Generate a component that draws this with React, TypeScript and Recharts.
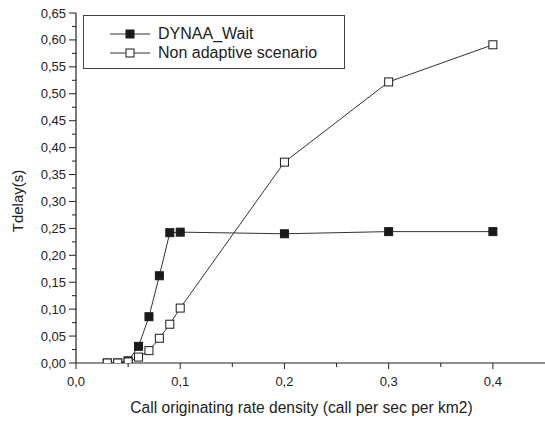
import React from 'react';
import { LineChart, Line, XAxis, YAxis, Legend } from 'recharts';

// call originating rate density (call per sec per km2)
const rateDensity = [0.03, 0.04, 0.05, 0.06, 0.07, 0.08, 0.09, 0.1, 0.2, 0.3, 0.4];
// Tdelay(s)
const dynaaWait = [0, 0, 0.004, 0.031, 0.086, 0.162, 0.242, 0.243, 0.24, 0.244, 0.244];
const nonAdaptive = [0, 0, 0.002, 0.011, 0.023, 0.046, 0.072, 0.102, 0.373, 0.522, 0.591];

const xTicks = [0, 0.05, 0.1, 0.15, 0.2, 0.25, 0.3, 0.35, 0.4];
const xMajor = [0, 0.1, 0.2, 0.3, 0.4];
const yTicks = [
  0, 0.025, 0.05, 0.075, 0.1, 0.125, 0.15, 0.175, 0.2, 0.225, 0.25, 0.275, 0.3, 0.325,
  0.35, 0.375, 0.4, 0.425, 0.45, 0.475, 0.5, 0.525, 0.55, 0.575, 0.6, 0.625, 0.65,
];
const yMajor = [0, 0.05, 0.1, 0.15, 0.2, 0.25, 0.3, 0.35, 0.4, 0.45, 0.5, 0.55, 0.6, 0.65];

const data = rateDensity.map((x, i) => ({ x, dynaa: dynaaWait[i], nonAdaptive: nonAdaptive[i] }));

const FONT = '"Liberation Sans", Arial, sans-serif';
const INK = '#222';

const isMajor = (v: number, list: number[]) => list.some((m) => Math.abs(m - v) < 1e-6);
const comma = (v: number, digits: number) => v.toFixed(digits).replace('.', ',');

const XTick = (props: any) => {
  const { x, y, payload } = props;
  const major = isMajor(payload.value, xMajor);
  return (
    <g>
      <line x1={x} y1={y} x2={x} y2={y + (major ? 6 : 4)} stroke={INK} />
      {major && (
        <text x={x} y={y + 23} textAnchor="middle" fontSize={13} fill={INK} fontFamily={FONT}>
          {comma(payload.value, 1)}
        </text>
      )}
    </g>
  );
};

const YTick = (props: any) => {
  const { x, y, payload } = props;
  const major = isMajor(payload.value, yMajor);
  return (
    <g>
      <line x1={x} y1={y} x2={x - (major ? 7 : 4)} y2={y} stroke={INK} />
      {major && (
        <text x={x - 10} y={y + 4.5} textAnchor="end" fontSize={13} fill={INK} fontFamily={FONT}>
          {comma(payload.value, 2)}
        </text>
      )}
    </g>
  );
};

const Square = (props: any) => {
  const { cx, cy, index, filled } = props;
  if (cx == null || cy == null) return <g key={`s-${index}`} />;
  return (
    <rect
      key={`s-${index}`}
      x={cx - 4}
      y={cy - 4}
      width={8}
      height={8}
      fill={filled ? '#1a1a1a' : '#fff'}
      stroke="#1a1a1a"
      strokeWidth={1}
    />
  );
};

const legendItems = [
  { name: 'DYNAA_Wait', filled: true },
  { name: 'Non adaptive scenario', filled: false },
];

const renderLegend = () => (
  <div
    style={{
      width: 262,
      height: 54,
      border: '1px solid #444',
      boxSizing: 'border-box',
      paddingTop: 8,
      fontFamily: FONT,
      fontSize: 16,
      color: INK,
    }}
  >
    {legendItems.map((item) => (
      <div key={item.name} style={{ display: 'flex', alignItems: 'center', height: 19 }}>
        <svg width={74} height={12} style={{ flex: 'none' }}>
          <line x1={26} y1={6} x2={66} y2={6} stroke="#333" />
          <rect
            x={42}
            y={2}
            width={8}
            height={8}
            fill={item.filled ? '#1a1a1a' : '#fff'}
            stroke="#1a1a1a"
          />
        </svg>
        <span>{item.name}</span>
      </div>
    ))}
  </div>
);

export default function App() {
  return (
    <div style={{ position: 'absolute', left: 0, top: 0, background: '#fff' }}>
      <LineChart width={545} height={421} data={data} margin={{ top: 13, right: 0, bottom: 0, left: 0 }}>
        <XAxis
          xAxisId="main"
          dataKey="x"
          type="number"
          domain={[0, 0.45]}
          allowDataOverflow
          ticks={xTicks}
          interval={0}
          tickSize={0}
          tickMargin={0}
          tick={<XTick />}
          height={58}
          axisLine={{ stroke: INK, strokeWidth: 1.2 }}
          label={(p: any) => {
            const vb = p.viewBox;
            return (
              <text
                x={vb.x + vb.width / 2 - 9}
                y={vb.y + 50}
                textAnchor="middle"
                fontSize={15.6}
                fill={INK}
                fontFamily={FONT}
              >
                Call originating rate density (call per sec per km2)
              </text>
            );
          }}
        />
        <XAxis
          xAxisId="top"
          dataKey="x"
          type="number"
          orientation="top"
          domain={[0, 0.45]}
          height={0}
          tick={false}
          tickLine={false}
          axisLine={{ stroke: '#555', strokeWidth: 1.2 }}
        />
        <YAxis
          yAxisId="main"
          type="number"
          domain={[0, 0.65]}
          allowDataOverflow
          ticks={yTicks}
          interval={0}
          tickSize={0}
          tickMargin={0}
          tick={<YTick />}
          width={76}
          axisLine={{ stroke: INK, strokeWidth: 1.2 }}
          label={(p: any) => {
            const vb = p.viewBox;
            const cx = vb.x + 23;
            const cy = vb.y + vb.height / 2 + 13;
            return (
              <text
                x={cx}
                y={cy}
                transform={`rotate(-90 ${cx} ${cy})`}
                textAnchor="middle"
                fontSize={15}
                fill={INK}
                fontFamily={FONT}
              >
                Tdelay(s)
              </text>
            );
          }}
        />
        <Legend
          layout="vertical"
          verticalAlign="middle"
          align="center"
          wrapperStyle={{ left: 83, top: 15, width: 262, height: 54 }}
          content={renderLegend}
        />
        <Line
          xAxisId="main"
          yAxisId="main"
          type="linear"
          dataKey="dynaa"
          name="DYNAA_Wait"
          stroke="#333"
          strokeWidth={1}
          dot={(p: any) => <Square {...p} filled />}
          activeDot={false}
          isAnimationActive={false}
        />
        <Line
          xAxisId="main"
          yAxisId="main"
          type="linear"
          dataKey="nonAdaptive"
          name="Non adaptive scenario"
          stroke="#333"
          strokeWidth={1}
          dot={(p: any) => <Square {...p} filled={false} />}
          activeDot={false}
          isAnimationActive={false}
        />
      </LineChart>
    </div>
  );
}
